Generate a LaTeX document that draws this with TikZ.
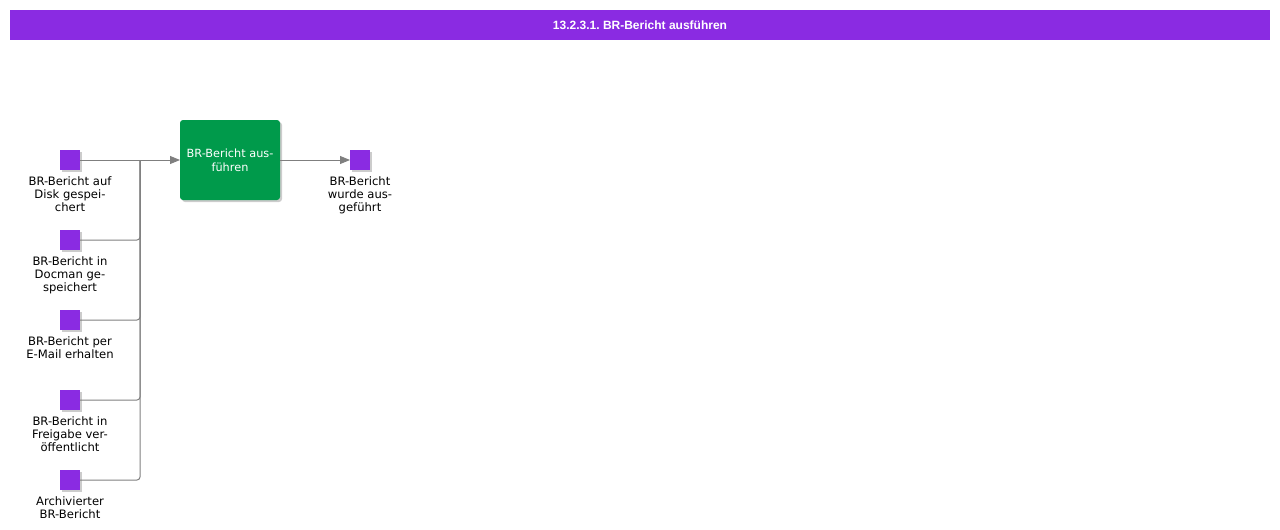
\documentclass[tikz,border=0pt]{standalone}
\usepackage{fontspec}
\setmainfont{DejaVu Sans}
\newfontfamily\titlefont{Liberation Sans}
\usetikzlibrary{positioning,shadows,arrows.meta}
\definecolor{evpurple}{HTML}{8A2BE2}
\definecolor{fngreen}{HTML}{009A4B}
\definecolor{conngray}{HTML}{7F7F7F}
\frenchspacing

\begin{document}
\begin{tikzpicture}[x=1pt,y=-1pt,
 event/.style={fill=evpurple,minimum size=20pt,inner sep=0pt,outer sep=0pt,
  drop shadow={shadow xshift=2pt,shadow yshift=-2pt,opacity=.2,fill=black}},
 evlabel/.style={align=center,inner sep=0pt,font=\fontsize{11.6}{13}\selectfont},
 func/.style={fill=fngreen,rounded corners=3pt,minimum width=100pt,minimum height=80pt,
  outer sep=0pt,align=center,text=white,font=\fontsize{11.3}{14}\selectfont,
  drop shadow={shadow xshift=2pt,shadow yshift=-2pt,opacity=.2,fill=black}},
 conn/.style={draw=conngray,line width=1pt,rounded corners=3pt,
  -{Triangle[length=10pt,width=8pt]}},
 node distance=60pt]

 \useasboundingbox (0,0) rectangle (1280,530);
 \node[fill=evpurple,minimum width=1260pt,minimum height=30pt,inner sep=0pt,text=white,
  font=\titlefont\bfseries\fontsize{12}{14}\selectfont] (title) at (640,25)
  {13.2.3.1. BR-Bericht ausführen};

 \node[event] (e_disk) at (70,160) {};
 \node[event] (e_docman) at (70,240) {};
 \node[event] (e_mail) at (70,320) {};
 \node[event] (e_share) at (70,400) {};
 \node[event] (e_archive) at (70,480) {};
 \node[func] (f_run) at (230,160) {BR-Bericht aus-\\führen};
 \node[event] (e_done) [right=70pt of f_run] {};

 \node[evlabel] (l_disk) [below=6pt of e_disk] {BR-Bericht auf\\Disk gespei-\\chert};
 \node[evlabel] (l_docman) [below=6pt of e_docman] {BR-Bericht in\\Docman ge-\\speichert};
 \node[evlabel] (l_mail) [below=6pt of e_mail] {BR-Bericht per\\E-Mail erhalten};
 \node[evlabel] (l_share) [below=6pt of e_share] {BR-Bericht in\\Freigabe ver-\\öffentlicht};
 \node[evlabel] (l_archive) [below=6pt of e_archive] {Archivierter\\BR-Bericht};
 \node[evlabel] (l_done) [below=6pt of e_done] {BR-Bericht\\wurde aus-\\geführt};

 \coordinate (join) at (140,160);
 \draw[conn] (e_disk) -- (f_run);
 \foreach \e in {e_docman,e_mail,e_share,e_archive}
  \draw[draw=conngray,line width=1pt,rounded corners=3pt] (\e) -| (join);
 \draw[conn] (f_run) -- (e_done);
\end{tikzpicture}
\end{document}
